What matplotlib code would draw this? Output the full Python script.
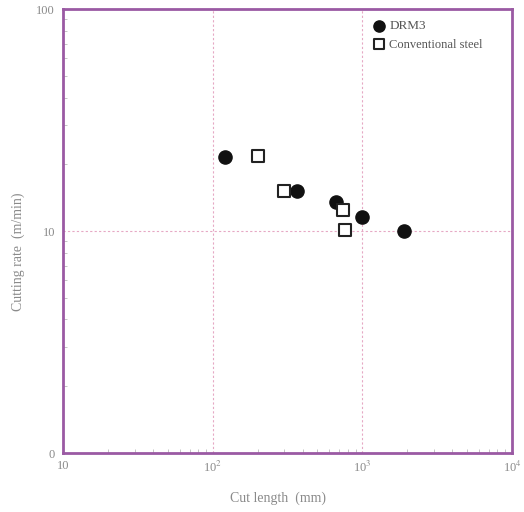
import matplotlib.pyplot as plt
import numpy as np

# cut length (mm) vs cutting rate (m/min)
drm3_len = [120, 367, 664, 1000, 1890]
drm3_rate = [21.6, 15.1, 13.6, 11.6, 10.0]

conv_len = [200, 300, 745, 765]
conv_rate = [21.7, 15.2, 12.5, 10.1]

xticks = [10, 100, 1000, 10000]
xtick_labels = ["10", "10$^2$", "10$^3$", "10$^4$"]
yticks = [1, 10, 100]
ytick_labels = ["0", "10", "100"]

plt.rcParams['font.family'] = ['Liberation Serif', 'DejaVu Serif']
plt.rcParams['mathtext.fontset'] = 'stix'

purple = '#9a5aa3'
txt = '#8a8a8a'

fig = plt.figure(figsize=(5.24, 5.12), dpi=100)
ax = fig.add_axes([0.121, 0.115, 0.856, 0.867])

ax.set_xscale('log')
ax.set_yscale('log')
ax.set_xlim(10, 10000)
ax.set_ylim(1, 100)

# faint dotted grid at the decades
for v in [100, 1000]:
    ax.axvline(v, color='#e6a8c4', lw=0.8, ls=(0, (2, 2)), zorder=0)
ax.axhline(10, color='#e6a8c4', lw=0.8, ls=(0, (2, 2)), zorder=0)

ax.scatter(drm3_len, drm3_rate, s=90, marker='o', color='#111111',
           label='DRM3', zorder=3)
ax.scatter(conv_len, conv_rate, s=75, marker='s', facecolor='white',
           edgecolor='#222222', linewidths=1.5, label='Conventional steel',
           zorder=3)

for sp in ax.spines.values():
    sp.set_color(purple)
    sp.set_linewidth(2)

ax.set_xticks(xticks)
ax.set_xticklabels(xtick_labels)
ax.set_yticks(yticks)
ax.set_yticklabels(ytick_labels)
ax.tick_params(which='major', direction='in', length=0, colors=txt,
               labelsize=9, pad=6)
ax.tick_params(which='minor', direction='in', length=3, color='#bbbbbb',
               labelleft=False, labelbottom=False)
ax.tick_params(axis='x', which='major', pad=5)
ax.tick_params(top=False, right=False, which='both')

ax.set_xlabel('Cut length  (mm)', color=txt, fontsize=10)
ax.set_ylabel('Cutting rate  (m/min)', color=txt, fontsize=10)
ax.xaxis.set_label_coords(0.478, -0.086)
ax.yaxis.set_label_coords(-0.085, 0.453)

leg = ax.legend(loc='upper left', frameon=False, fontsize=9,
                handletextpad=0.3, borderaxespad=0.0, labelspacing=0.5,
                handlelength=1.0, markerscale=0.85,
                bbox_to_anchor=(0.679, 0.986))
for t in leg.get_texts():
    t.set_color('#555555')
leg.get_texts()[0].set_fontsize(9.5)

fig.savefig('out.png', dpi=100)
